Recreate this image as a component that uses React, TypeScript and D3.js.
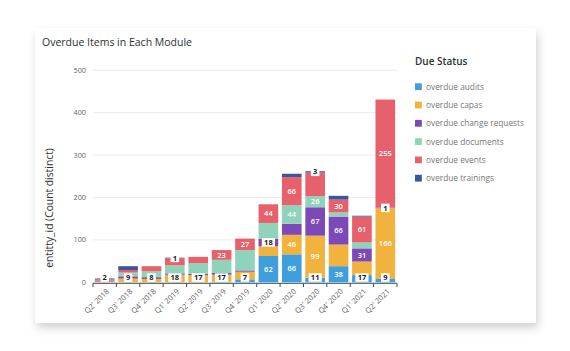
import * as d3 from 'd3';

const quarters = ["Q2' 2018", "Q3' 2018", "Q4' 2018", "Q1' 2019", "Q2' 2019", "Q3' 2019", "Q4' 2019", "Q1' 2020", "Q2' 2020", "Q3' 2020", "Q4' 2020", "Q1' 2021", "Q2' 2021"];
const audits = [0, 0, 0, 0, 0, 1, 7, 62, 66, 11, 38, 17, 9];
const capas = [2, 9, 8, 18, 17, 17, 18, 23, 46, 99, 51, 32, 166];
const changeRequests = [2, 5, 4, 3, 3, 4, 3, 18, 26, 67, 66, 31, 1];
const documents = [0, 9, 14, 19, 25, 31, 48, 37, 44, 26, 10, 14, 0];
const events = [3, 6, 12, 17, 15, 23, 27, 44, 66, 56, 30, 61, 255];
const trainings = [2, 9, 0, 1, 0, 0, 0, 0, 8, 3, 9, 2, 0];
const yTicks = [0, 100, 200, 300, 400, 500];

// which segments carry a value label in each quarter
const shownLabels = [
  ['capas'], ['capas'], ['capas'], ['capas', 'trainings'], ['capas'], ['capas', 'events'],
  ['audits', 'events'], ['audits', 'changeRequests', 'events'],
  ['audits', 'capas', 'documents', 'events'],
  ['audits', 'capas', 'changeRequests', 'documents', 'trainings'],
  ['audits', 'changeRequests', 'events'], ['audits', 'changeRequests', 'events'],
  ['audits', 'capas', 'changeRequests', 'events'],
];

const series = [
  { key: 'audits', name: 'overdue audits', values: audits, color: '#3f9fdc' },
  { key: 'capas', name: 'overdue capas', values: capas, color: '#f1b23e' },
  { key: 'changeRequests', name: 'overdue change requests', values: changeRequests, color: '#7c49b6' },
  { key: 'documents', name: 'overdue documents', values: documents, color: '#8fd3ba' },
  { key: 'events', name: 'overdue events', values: events, color: '#e7616c' },
  { key: 'trainings', name: 'overdue trainings', values: trainings, color: '#3a579e' },
];

const FONT = "'Open Sans', 'DejaVu Sans', sans-serif";

export default function App() {
  const x = d3.scaleBand().domain(quarters).range([93, 397]).paddingInner(0.16).paddingOuter(0.08);
  const y = d3.scaleLinear().domain([0, 500]).range([282.3, 70.3]);

  const rows = quarters.map((q, i) => {
    const r: Record<string, number | string> = { q };
    series.forEach((s) => (r[s.key] = s.values[i]));
    return r;
  });
  const stacked = d3.stack<Record<string, number | string>>().keys(series.map((s) => s.key))(rows as any);

  const step = x.step();
  const boundaries = quarters.map((_, i) => 93 + i * step).concat([397]);

  return (
    <div style={{ position: 'absolute', left: 0, top: 0 }}>
      <svg width={570} height={351} style={{ display: 'block', fontFamily: FONT }}>
        <defs>
          <filter id="shadow" x="-10%" y="-10%" width="125%" height="130%">
            <feDropShadow dx="2" dy="5" stdDeviation="5" floodColor="#000" floodOpacity="0.18" />
          </filter>
        </defs>
        <rect x={0} y={0} width={570} height={351} fill="#fff" />
        <rect x={35} y={28} width={501} height={295} fill="#fff" filter="url(#shadow)" />

        <text x={42} y={46} fontSize={10.5} fill="#2b2f33">Overdue Items in Each Module</text>

        {/* grid + y ticks */}
        {yTicks.map((t) => (
          <g key={t}>
            {t > 0 && <line x1={93} x2={397} y1={y(t)} y2={y(t)} stroke="#ececec" strokeWidth={1} />}
            <text x={86} y={y(t)} dy="0.35em" textAnchor="end" fontSize={7.3} fill="#666">{t}</text>
          </g>
        ))}
        <text transform={`translate(53,208) rotate(-90)`} textAnchor="middle" fontSize={10.3} fill="#333">
          entitty_id (Count distinct)
        </text>

        {/* bars */}
        {stacked.map((layer, si) => (
          <g key={layer.key} fill={series[si].color}>
            {layer.map((d, i) => {
              const h = y(d[0]) - y(d[1]);
              if (h <= 0) return null;
              return <rect key={i} x={x(quarters[i])} y={y(d[1])} width={x.bandwidth()} height={h} />;
            })}
          </g>
        ))}

        {/* value labels */}
        {stacked.map((layer, si) =>
          layer.map((d, i) => {
            const key = series[si].key;
            if (!shownLabels[i].includes(key)) return null;
            const v = d[1] - d[0];
            const cx = (x(quarters[i]) as number) + x.bandwidth() / 2;
            const h = y(d[0]) - y(d[1]);
            const label = String(v);
            if (h < 9) {
              const bw = label.length * 4.6 + 4;
              const bh = 8.5;
              const cy = Math.min((y(d[0]) + y(d[1])) / 2, y(0) - bh / 2 - 0.5);
              return (
                <g key={`${key}-${i}`}>
                  <rect x={cx - bw / 2} y={cy - bh / 2} width={bw} height={bh} fill="#fff" />
                  <text x={cx} y={cy} dy="0.35em" textAnchor="middle" fontSize={7.5} fontWeight={700} fill="#1d2024">{label}</text>
                </g>
              );
            }
            const cy = (y(d[0]) + y(d[1])) / 2;
            return (
              <text key={`${key}-${i}`} x={cx} y={cy} dy="0.35em" textAnchor="middle" fontSize={7.5} fontWeight={600} fill="#fff">{label}</text>
            );
          })
        )}

        {/* x axis */}
        <line x1={93} x2={397} y1={283.3} y2={283.3} stroke="#3b4a5a" strokeWidth={1} />
        {boundaries.map((b, i) => (
          <line key={i} x1={b} x2={b} y1={283.3} y2={287} stroke="#3b4a5a" strokeWidth={1} />
        ))}
        {quarters.map((q) => {
          const cx = (x(q) as number) + x.bandwidth() / 2;
          return (
            <text key={q} transform={`translate(${cx + 5},${292}) rotate(-45)`} textAnchor="end" fontSize={7.6} fill="#666">{q}</text>
          );
        })}

        {/* legend */}
        <text x={415} y={65} fontSize={10} fontWeight={600} fill="#2b2f33">Due Status</text>
        {series.map((s, i) => {
          const cy = 86.7 + i * 18.3;
          return (
            <g key={s.key}>
              <rect x={415} y={cy - 3.4} width={6.8} height={6.8} fill={s.color} />
              <text x={426} y={cy} dy="0.35em" fontSize={8.3} fill="#777">{s.name}</text>
            </g>
          );
        })}
      </svg>
    </div>
  );
}
